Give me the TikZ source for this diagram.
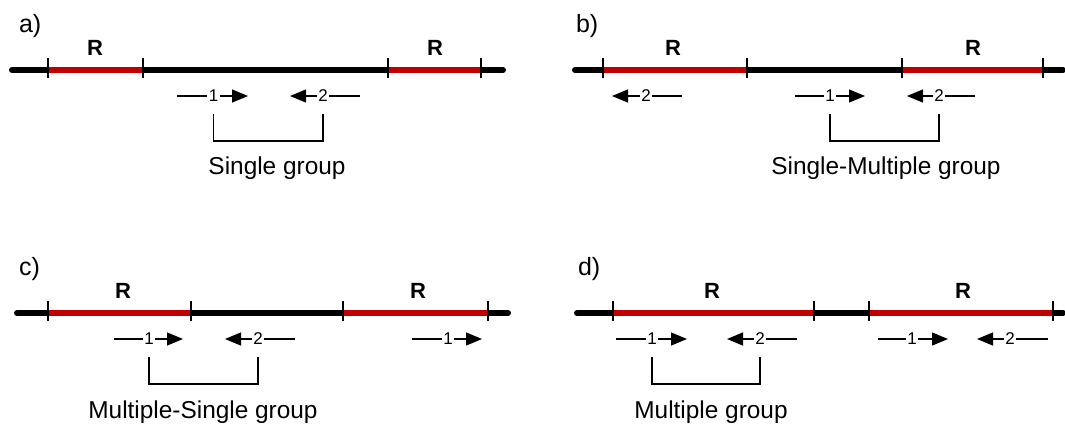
\documentclass[tikz,border=0pt]{standalone}
\usepackage{fontspec}
\setmainfont{Liberation Sans}
\usetikzlibrary{arrows.meta,positioning}
\definecolor{repred}{RGB}{192,0,0}
\tikzset{
	chrom/.style={line width=3pt,line cap=round},
	rep/.style={line width=3pt,repred},
	tickmark/.style={line width=0.9pt},
	primline/.style={line width=0.65pt},
	prim/.style={line width=0.65pt,-{Triangle[length=8pt,width=6.5pt]}},
	num/.style={font=\fontsize{8.5}{9}\selectfont,inner sep=0.5pt},
	rlab/.style={font=\fontsize{11}{12}\selectfont\bfseries,anchor=base},
	panel/.style={font=\fontsize{12.5}{14}\selectfont,anchor=base west},
	grp/.style={font=\fontsize{12.2}{14}\selectfont,anchor=base},
	brk/.style={line width=0.8pt},
}

\begin{document}
\begin{tikzpicture}[x=0.5pt,y=-0.5pt]
	\useasboundingbox (0,0) rectangle (1065,425);

	% a)
	\node[panel] (pa) at (12,32) {a)};
	\draw[chrom] (12,70) -- (503,70);
	\draw[rep] (48,70) -- (143,70) (388,70) -- (481,70);
	\foreach \x in {48,143,388,481} \draw[tickmark] (\x,58) -- (\x,78);
	\node[rlab] (ra1) at (95,55) {R};
	\node[rlab] (ra2) at (435,55) {R};

	% b)
	\node[panel] (pb) at (569,32) {b)};
	\draw[chrom] (575,70) -- (1063,70);
	\draw[rep] (603,70) -- (747,70) (902,70) -- (1043,70);
	\foreach \x in {603,747,902,1043} \draw[tickmark] (\x,58) -- (\x,78);
	\node[rlab] (rb1) at (673,55) {R};
	\node[rlab] (rb2) at (973,55) {R};

	% c)
	\node[panel] (pc) at (12,275) {c)};
	\draw[chrom] (17,313) -- (508,313);
	\draw[rep] (48,313) -- (191,313) (343,313) -- (488,313);
	\foreach \x in {48,191,343,488} \draw[tickmark] (\x,301) -- (\x,321);
	\node[rlab] (rc1) at (123,298) {R};
	\node[rlab] (rc2) at (418,298) {R};

	% d)
	\node[panel] (pd) at (571,275) {d)};
	\draw[chrom] (577,313) -- (1063,313);
	\draw[rep] (613,313) -- (814,313) (869,313) -- (1053,313);
	\foreach \x in {613,814,869,1053} \draw[tickmark] (\x,301) -- (\x,321);
	\node[rlab] (rd1) at (712,298) {R};
	\node[rlab] (rd2) at (963,298) {R};

	% primers
	\foreach \n/\s/\m/\e/\t/\y in {a1/177/213.5/248/1/96, a2/360/323/290/2/96,
		b0/682/646/612/2/96, b1/795/830/865/1/96, b2/975/939/907/2/96,
		c1/114/149/183/1/339, c2/295/258/225/2/339, c3/412/448/482/1/339,
		d1/616/652/687/1/339, d2/797/760/727/2/339, d3/878/912/948/1/339, d4/1048/1010/977/2/339}
	{
		\coordinate (\n s) at (\s,\y);
		\coordinate (\n e) at (\e,\y);
		\node[num] (\n) at (\m,\y) {\t};
		\draw[primline] (\n s) -- (\n);
		\draw[prim] (\n) -- (\n e);
	}

	% groups
	\foreach \p/\q in {a1/a2,b1/b2,c1/c2,d1/d2}
		\draw[brk] ([yshift=-9pt]\p.center) |- ([yshift=-22.5pt]\q.center) -- ([yshift=-9pt]\q.center);
	\node[grp] (ga) at (277,174) {Single group};
	\node[grp] (gb) at (886,174) {Single-Multiple group};
	\node[grp] (gc) at (203,418) {Multiple-Single group};
	\node[grp] (gd) at (711,418) {Multiple group};
\end{tikzpicture}
\end{document}
